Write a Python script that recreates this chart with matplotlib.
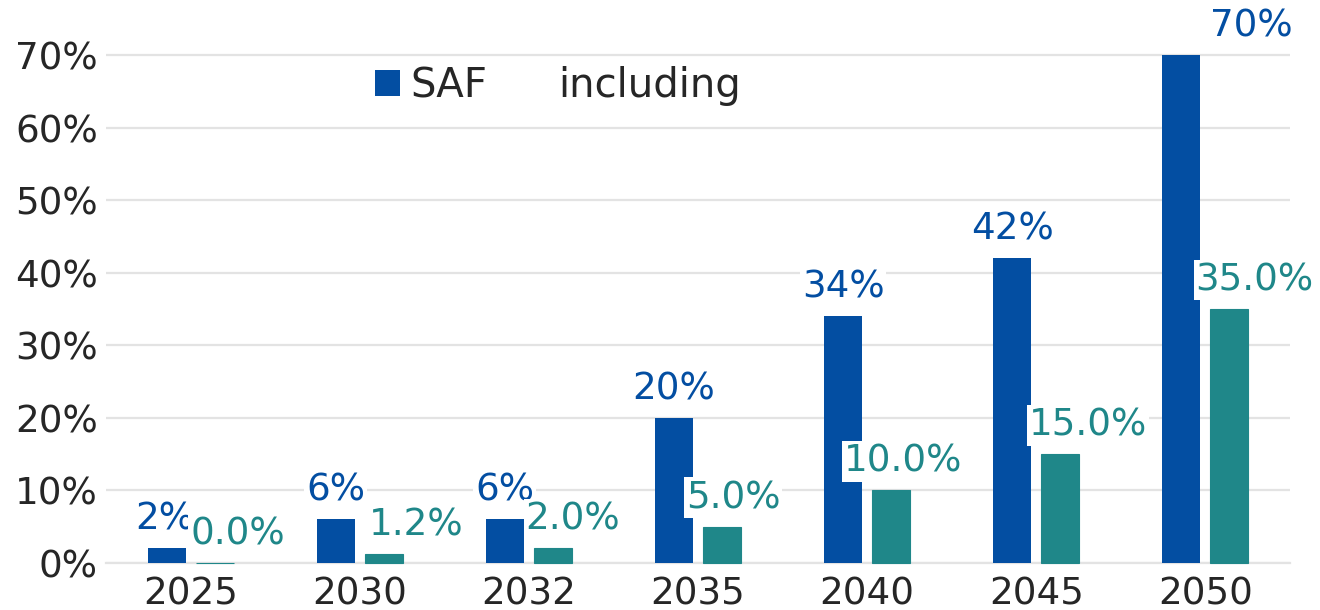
import matplotlib
matplotlib.use("Agg")
import matplotlib.pyplot as plt
from matplotlib.patches import Patch
import numpy as np

years = ["2025", "2030", "2032", "2035", "2040", "2045", "2050"]
saf = [2, 6, 6, 20, 34, 42, 70]
synthetic = [0.0, 1.2, 2.0, 5.0, 10.0, 15.0, 35.0]
yticks = [0, 10, 20, 30, 40, 50, 60, 70]
legend_labels = ["SAF", "including"]

# label horizontal nudges (pixels)
saf_label_dx = [-2, 0, 0, 0, 0, 0, 70]
syn_label_dx = [23, 32, 20, 11, 12, 28, 25]

BLUE = "#034EA2"
TEAL = "#1F8789"
TXT = "#262626"
GRID = "#E3E3E3"

plt.rcParams['font.family'] = ['DejaVu Sans']
W, H = 1320, 610
fig = plt.figure(figsize=(W / 100, H / 100), dpi=100)
ax = fig.add_axes([106 / W, (H - 563) / H, 1184 / W, 563 / H])

x = np.arange(len(years))
bw = 0.225
off = 0.142
ax.bar(x - off, saf, bw, color=BLUE, zorder=3)
tbars = ax.bar(x + off, synthetic, bw, color=TEAL, edgecolor=TEAL, linewidth=0.8, zorder=3)
for b in tbars:
    b.set_clip_on(False)

fs = 26.8
px2pt = 0.72
for i, v in enumerate(saf):
    ax.annotate(f"{v:.0f}%", (x[i] - off, v), xytext=(saf_label_dx[i] * px2pt, 29 * px2pt),
                textcoords="offset points", ha="center", va="center",
                fontsize=fs, color=BLUE, zorder=4, annotation_clip=False,
                bbox=dict(boxstyle="square,pad=0.05", fc="white", ec="none"))
for i, v in enumerate(synthetic):
    ax.annotate(f"{v:.1f}%", (x[i] + off, v), xytext=(syn_label_dx[i] * px2pt, 29 * px2pt),
                textcoords="offset points", ha="center", va="center",
                fontsize=fs, color=TEAL, zorder=5, annotation_clip=False,
                bbox=dict(boxstyle="square,pad=0.05", fc="white", ec="none"))

ax.set_xlim(-0.5, 6.5)
ax.set_ylim(0, 563 / ((563 - 55) / 70))
ax.set_yticks(yticks)
ax.set_yticklabels([f"{t}%" for t in yticks])
ax.set_xticks(x)
ax.set_xticklabels(years)
ax.tick_params(axis="both", length=0, labelsize=fs, labelcolor=TXT)
ax.tick_params(axis="y", pad=6)
ax.tick_params(axis="x", pad=9)
ax.grid(axis="y", color=GRID, linewidth=1.6, zorder=0)
ax.set_axisbelow(True)
for s in ["top", "right", "left"]:
    ax.spines[s].set_visible(False)
ax.spines["bottom"].set_color(GRID)
ax.spines["bottom"].set_linewidth(1.6)
ax.spines["bottom"].set_zorder(1)

handles = [Patch(facecolor=BLUE, edgecolor="none"), Patch(facecolor="none", edgecolor="none")]
fig.legend(handles, legend_labels, loc="center left",
           bbox_to_anchor=(375 / W, 1 - 86 / H), ncol=2, frameon=False,
           fontsize=29, borderpad=0, borderaxespad=0, handlelength=0.62,
           handleheight=0.62, handletextpad=0.27, columnspacing=0.87, labelcolor=TXT)

fig.savefig("out.png", dpi=100)
